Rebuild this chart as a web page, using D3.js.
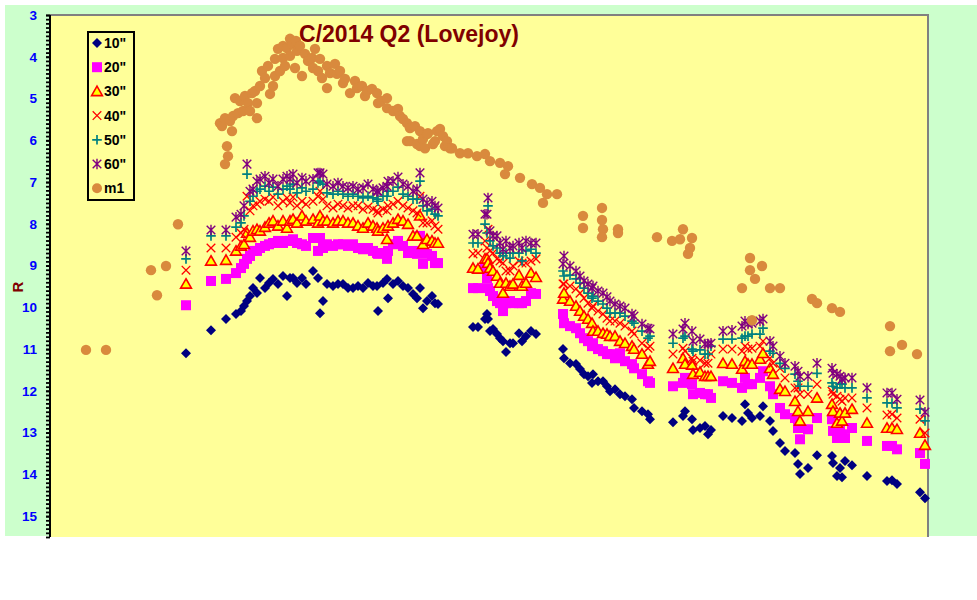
<!DOCTYPE html>
<html><head><meta charset="utf-8">
<script src="https://cdn.jsdelivr.net/npm/d3@7"></script>
<style>body{margin:0;background:#fff}svg{display:block}</style>
</head><body><svg id="c" width="977" height="600"></svg>
<script>
// ---- data (x = days, y = magnitude R) ----
const obsDay=[34,40.25,44,
46.5,47.75,48.5,49.25,50,50.75,51.75,52.5,53.75,54.75,55.75,57,58.25,59.25,60,60.75,61.75,63,64,65.75,67,67.5,68.25,69.25,70.75,72,73.25,74.5,75.75,77,78.25,79.5,80.75,81.75,82,83.25,84.25,84.5,85.75,87,88.25,89.5,90.75,91.75,92.5,93.25,94.25,95.5,96.25,97,
105.75,107,108.75,109.25,109.5,110,110.75,111.75,112.5,113.25,114,115,115.75,117.25,118,119,120.25,121.5,
128.25,128.5,130,131.5,132.5,133.5,134.5,135.5,135.75,137,138.25,139.25,140,141.25,142.5,143.75,145.5,146,148,149.5,150,
155.75,158.25,158.75,160.5,160.75,162.5,163.75,164.5,165.25,
168.25,170.5,173,173.75,174.5,175.5,177.5,178.25,
180,180.75,182.5,183.75,186.25,187,187.5,189.5,191.75,195.5,195.75,196.75,197.5,198,198.75,200.5,204.25,209.25,210.5,211.75,217.5,218.75];
const r10=[11.10,10.55,10.28,
10.16,10.09,9.97,9.85,9.73,9.54,9.66,9.30,9.54,9.42,9.32,9.44,9.25,9.73,9.30,9.30,9.42,9.30,9.44,9.13,9.30,10.14,9.85,9.44,9.49,9.44,9.44,9.54,9.54,9.49,9.54,9.42,9.49,9.49,10.09,9.42,9.32,9.78,9.44,9.37,9.49,9.54,9.68,9.78,9.54,10.02,9.85,9.73,9.90,9.92,
10.47,10.47,10.28,10.16,10.28,10.57,10.52,10.64,10.74,10.81,11.07,10.86,10.86,10.62,10.81,10.69,10.57,10.64,
11.00,11.22,11.34,11.36,11.48,11.60,11.65,11.81,11.60,11.77,11.77,11.89,12.01,11.96,12.08,12.13,12.20,12.41,12.49,12.56,12.68,
12.75,12.60,12.49,12.68,12.94,12.89,12.84,13.04,12.94,
12.60,12.65,12.72,12.32,12.53,12.65,12.60,12.37,
12.72,12.96,13.25,13.44,13.49,13.75,13.99,13.85,13.54,13.56,13.73,14.04,13.85,14.07,13.68,13.78,14.04,14.16,14.14,14.23,14.43,14.57];
const r20=[9.95,9.37,9.32,
9.18,9.06,8.96,8.84,8.77,8.65,8.65,8.58,8.53,8.49,8.46,8.41,8.46,8.41,8.41,8.37,8.46,8.49,8.53,8.34,8.65,8.34,8.58,8.49,8.53,8.49,8.49,8.53,8.49,8.58,8.61,8.58,8.65,8.70,8.72,8.70,8.84,8.65,8.49,8.41,8.53,8.70,8.65,8.72,8.29,8.96,8.72,8.77,8.94,8.94,
9.54,9.54,9.08,9.30,9.54,9.61,9.73,9.85,9.90,10.09,9.90,9.85,9.90,9.90,9.90,9.85,9.66,9.68,
10.16,10.38,10.45,10.50,10.62,10.74,10.81,10.93,10.86,11.00,11.05,11.12,11.12,11.22,11.10,11.29,11.36,11.46,11.60,11.77,11.81,
11.89,11.81,11.69,11.84,12.08,12.05,12.08,12.08,12.17,
11.77,11.81,11.93,11.69,11.84,11.84,11.69,11.53,
11.89,12.08,12.41,12.56,12.65,12.89,13.16,12.92,12.65,12.68,12.96,13.13,12.84,13.04,13.13,12.89,13.20,13.32,13.32,13.40,13.49,13.75];
const r30=[9.44,8.89,8.87,
8.65,8.53,8.49,8.22,8.32,8.17,8.13,8.17,8.08,7.98,7.93,8.05,7.93,8.10,7.93,7.89,7.98,7.81,7.93,7.89,7.98,7.81,7.93,7.93,7.98,7.93,7.93,7.98,7.98,8.05,8.10,7.98,8.05,8.10,8.17,8.10,8.37,8.05,7.98,7.89,7.93,8.01,8.29,8.29,7.81,8.49,8.37,8.41,8.46,8.46,
9.06,9.08,8.84,8.84,8.94,9.06,9.13,9.25,9.42,9.66,9.42,9.49,9.44,9.23,9.49,9.42,9.18,9.28,
9.80,9.66,9.85,9.97,10.09,10.21,10.28,10.38,10.57,10.57,10.62,10.64,10.69,10.69,10.81,10.86,10.93,11.00,11.12,11.36,11.29,
11.46,11.22,11.36,11.38,11.60,11.55,11.65,11.65,11.65,
11.34,11.36,11.48,11.29,11.36,11.36,11.24,11.10,
11.46,11.60,11.96,12.01,12.25,12.49,12.72,12.49,12.17,12.32,12.49,12.77,12.53,12.72,12.53,12.44,12.77,12.89,12.89,12.92,13.01,13.30];
const r40=[9.11,8.58,8.58,
8.32,8.22,8.13,7.34,7.69,7.57,7.53,7.46,7.41,7.46,7.36,7.57,7.46,7.38,7.50,7.36,7.57,7.46,7.53,7.46,7.34,7.22,7.41,7.57,7.62,7.53,7.57,7.62,7.57,7.57,7.65,7.60,7.65,7.69,7.74,7.65,7.69,7.57,7.53,7.46,7.57,7.62,7.69,7.74,7.34,7.98,7.98,7.93,8.05,8.13,
8.72,8.70,8.41,8.58,8.13,8.65,8.70,8.84,8.89,8.94,9.13,9.13,9.01,8.89,8.94,8.94,8.89,8.84,
9.44,9.44,9.49,9.56,9.66,9.78,9.90,10.02,9.97,10.09,10.16,10.26,10.33,10.33,10.38,10.45,10.57,10.64,10.86,10.98,10.93,
11.12,10.98,11.05,11.22,11.29,11.27,11.34,11.34,11.12,
11.00,11.00,11.05,10.93,11.00,10.98,10.93,10.81,
11.22,11.34,11.46,11.69,11.93,11.93,12.08,12.08,11.84,12.01,12.08,12.13,12.20,12.25,12.17,12.17,12.41,12.58,12.56,12.65,12.68,13.01];
const r50=[8.84,8.29,8.29,
8.08,7.98,7.81,6.81,7.46,7.34,7.22,7.17,7.10,7.22,7.12,7.29,7.17,7.10,7.17,7.05,7.26,7.14,7.22,7.17,7.02,6.98,7.05,7.26,7.29,7.22,7.29,7.34,7.29,7.34,7.38,7.34,7.38,7.41,7.46,7.34,7.34,7.22,7.22,7.12,7.29,7.34,7.41,7.41,6.98,7.57,7.69,7.65,7.77,7.81,
8.46,8.46,8.01,8.22,7.57,8.41,8.53,8.58,8.70,8.77,8.70,8.82,8.70,8.70,8.89,8.65,8.61,8.70,
9.13,9.25,9.23,9.32,9.42,9.54,9.66,9.78,9.73,9.85,9.92,10.02,10.14,10.14,10.14,10.21,10.33,10.38,10.57,10.74,10.69,
10.86,10.74,10.69,11.00,11.05,11.02,11.12,11.12,10.93,
10.76,10.76,10.74,10.69,10.69,10.64,10.64,10.50,
11.05,11.10,11.34,11.46,11.60,11.77,11.89,11.89,11.58,11.81,11.89,11.93,11.84,11.84,11.93,11.93,12.17,12.29,12.29,12.41,12.44,12.72];
const r60=[8.65,8.15,8.15,
7.84,7.77,7.57,6.57,7.22,7.17,6.98,6.93,6.86,7.02,6.93,7.10,6.93,6.86,6.93,6.81,7.02,6.90,6.98,6.93,6.78,6.78,6.81,7.05,7.10,7.02,7.10,7.14,7.10,7.17,7.14,7.05,7.17,7.22,7.22,7.14,7.10,6.98,6.98,6.88,7.05,7.10,7.22,7.17,6.78,7.41,7.50,7.46,7.57,7.62,
8.25,8.25,7.77,7.77,7.38,8.17,8.29,8.29,8.46,8.61,8.41,8.58,8.53,8.46,8.58,8.41,8.46,8.46,
8.96,8.77,9.01,9.13,9.25,9.37,9.44,9.54,9.49,9.61,9.66,9.75,9.85,9.92,9.97,10.02,10.16,10.21,10.40,10.50,10.52,
10.64,10.52,10.38,10.57,10.81,10.76,10.88,10.88,10.86,
10.57,10.55,10.45,10.33,10.40,10.38,10.33,10.28,
10.81,10.93,11.17,11.34,11.41,11.53,11.65,11.65,11.34,11.46,11.58,11.60,11.65,11.72,11.69,11.69,11.93,12.05,12.05,12.20,12.22,12.51];
const m1Day=[9,14,25.25,26.75,29,32,42.5,43,43.75,43.75,44.25,44.5,45,45.5,45.75,46.25,47,47.5,48.25,48.75,49.5,50,50.5,51.25,51.75,51.75,52.5,53,53.75,54.5,55,55.75,56.25,56.25,57,57.5,58.25,58.25,58.75,59.25,60,60,60.5,61.25,61.5,61.75,62.5,63,63.75,64.5,65.5,65.75,66.25,67,67.5,68,69.25,69.25,70,71.25,71.75,72.5,73.25,73.75,75,76.25,76.75,78,78.75,79.25,80.5,81.75,82,82.75,84.25,84.25,85.75,87,87.5,88.25,89.25,89.25,90,90,91.25,91.75,92.5,92.5,93.25,93.75,94.25,94.5,95.75,96.25,96.75,97.5,98.25,98.75,99.25,100,100.5,102.5,104.5,106.75,108.75,110,112.5,113.75,114.5,117.5,120.5,122.5,123.25,124.25,126.75,133.25,133.25,138,138,138.25,138,142,142,151.75,155.5,157.5,158.25,159.5,160,160.5,173,175,175,175.5,176.25,178,180,182.5,190.5,191.75,195.5,197.5,210,210,213,216.75];
const m1=[11.02,11.02,9.11,9.71,9.01,8.01,5.59,5.66,6.57,5.47,6.14,6.38,5.54,5.78,5.42,4.99,5.35,5.06,5.30,4.94,5.11,5.30,4.87,4.82,5.47,5.11,4.70,4.34,4.51,4.22,4.89,4.70,4.46,4.05,3.81,4.34,4.03,3.74,4.22,3.79,3.98,3.57,3.69,4.27,3.62,3.86,3.74,4.46,3.93,4.10,4.03,4.27,3.81,4.34,4.05,4.51,4.22,4.75,4.39,4.17,4.41,4.34,4.63,4.53,4.87,4.58,4.75,4.70,4.94,4.82,4.77,4.87,5.11,5.06,4.99,5.23,5.30,5.25,5.42,5.49,5.59,6.02,5.71,6.02,5.66,6.09,5.78,6.14,5.97,6.19,5.85,5.83,6.09,6.02,5.78,5.73,5.90,6.14,6.02,6.19,6.19,6.31,6.31,6.38,6.33,6.50,6.54,6.81,6.62,6.90,7.05,7.14,7.50,7.29,7.29,7.81,8.10,7.62,7.91,8.13,8.32,8.13,8.22,8.32,8.41,8.37,8.13,8.72,8.58,8.34,9.54,8.82,9.11,10.31,9.32,9.01,9.54,9.54,9.80,9.90,10.02,10.11,10.45,11.05,10.90,11.12];
const yTicks=[3,4,5,6,7,8,9,10,11,12,13,14,15];
const seriesNames=['10"','20"','30"','40"','50"','60"','m1'];
const title='C/2014 Q2 (Lovejoy)';
const yLabel='R';

// ---- drawing ----
const svg=d3.select('#c');
const F='"Liberation Sans", Arial, sans-serif';
svg.append('rect').attr('x',5).attr('y',5).attr('width',972).attr('height',531).attr('fill','#ccffcc');
const x=d3.scaleLinear().domain([0,219.5]).range([50,928]);
const y=d3.scaleLinear().domain([3,15.5]).range([15,537]);
svg.append('rect').attr('x',x(0)).attr('y',y(3)).attr('width',x(219.5)-x(0)).attr('height',y(15.5)-y(3)).attr('fill','#ffff99');
svg.append('path').attr('d',`M${x(0)},${y(3)}H${x(219.5)}V${y(15.5)}`).attr('fill','none').attr('stroke','#808080').attr('stroke-width',2);

// minor ticks
const minor=d3.range(30,156).map(v=>v/10);
svg.append('g').attr('transform',`translate(${x(0)},0)`)
  .call(d3.axisLeft(y).tickValues(minor).tickFormat('').tickSize(4).tickSizeOuter(0))
  .call(g=>{g.select('.domain').remove();g.selectAll('line').attr('stroke','#000').attr('stroke-width',1.8);});
// major labels
svg.append('g').attr('transform',`translate(${x(0)},0)`)
  .call(d3.axisLeft(y).tickValues(yTicks).tickFormat(d3.format('d')).tickSize(4).tickPadding(9).tickSizeOuter(0))
  .call(g=>{g.select('.domain').remove();
    g.selectAll('line').attr('stroke','#000').attr('stroke-width',1.8);
    g.selectAll('text').attr('fill','#0000ff').attr('font-family',F).attr('font-weight','bold').attr('font-size','13.5px');});
svg.append('line').attr('x1',x(0)).attr('x2',x(0)).attr('y1',y(3)).attr('y2',y(15.5)).attr('stroke','#000').attr('stroke-width',2);

svg.append('text').attr('transform','translate(17,287) rotate(-90)').attr('text-anchor','middle').attr('dominant-baseline','central')
  .attr('font-family',F).attr('font-weight','bold').attr('font-size','15px').attr('fill','#800000').text(yLabel);

// marker styles
const styles=[
 {d:'M0,-5L5,0L0,5L-5,0Z',fill:'#000080',stroke:'none',sw:0},
 {d:'M-5,-5H5V5H-5Z',fill:'#ff00ff',stroke:'none',sw:0},
 {d:'M0,-5.2L5.4,4.2H-5.4Z',fill:'#ffff00',stroke:'#ff0000',sw:1.6},
 {d:'M-4.3,-4.3L4.3,4.3M-4.3,4.3L4.3,-4.3',fill:'none',stroke:'#ff0000',sw:1.3},
 {d:'M-4.8,0H4.8M0,-4.8V4.8',fill:'none',stroke:'#008080',sw:1.7},
 {d:'M-4.3,-4.3L4.3,4.3M-4.3,4.3L4.3,-4.3M0,-5.2V5.2',fill:'none',stroke:'#800080',sw:1.4},
 {circle:true,fill:'#d98a3d'}
];
const allVals=[r10,r20,r30,r40,r50,r60];
allVals.forEach((vals,i)=>{
  const st=styles[i];
  svg.append('g').selectAll('path').data(obsDay.map((d,k)=>[d,vals[k]])).join('path')
    .attr('transform',p=>`translate(${x(p[0])},${y(p[1])})`)
    .attr('d',st.d).attr('fill',st.fill).attr('stroke',st.stroke).attr('stroke-width',st.sw);
});
svg.append('g').selectAll('circle').data(m1Day.map((d,k)=>[d,m1[k]])).join('circle')
  .attr('cx',p=>x(p[0])).attr('cy',p=>y(p[1])).attr('r',5.2).attr('fill',styles[6].fill);

// title
svg.append('text').attr('x',409).attr('y',42).attr('text-anchor','middle').attr('font-family',F).attr('font-weight','bold')
  .attr('font-size','23px').attr('fill','#800000').text(title);

// legend
const lg=svg.append('g');
lg.append('rect').attr('x',88).attr('y',32).attr('width',46).attr('height',168).attr('fill','#ffff99').attr('stroke','#000').attr('stroke-width',2);
seriesNames.forEach((n,i)=>{
  const yy=43+i*24.2, st=styles[i];
  if(st.circle) lg.append('circle').attr('cx',97).attr('cy',yy).attr('r',5).attr('fill',st.fill);
  else lg.append('path').attr('transform',`translate(97,${yy})`).attr('d',st.d).attr('fill',st.fill).attr('stroke',st.stroke).attr('stroke-width',st.sw);
  lg.append('text').attr('x',104).attr('y',yy+5).attr('font-family',F).attr('font-weight','bold').attr('font-size','14px').attr('fill','#000').text(n);
});
</script></body></html>
